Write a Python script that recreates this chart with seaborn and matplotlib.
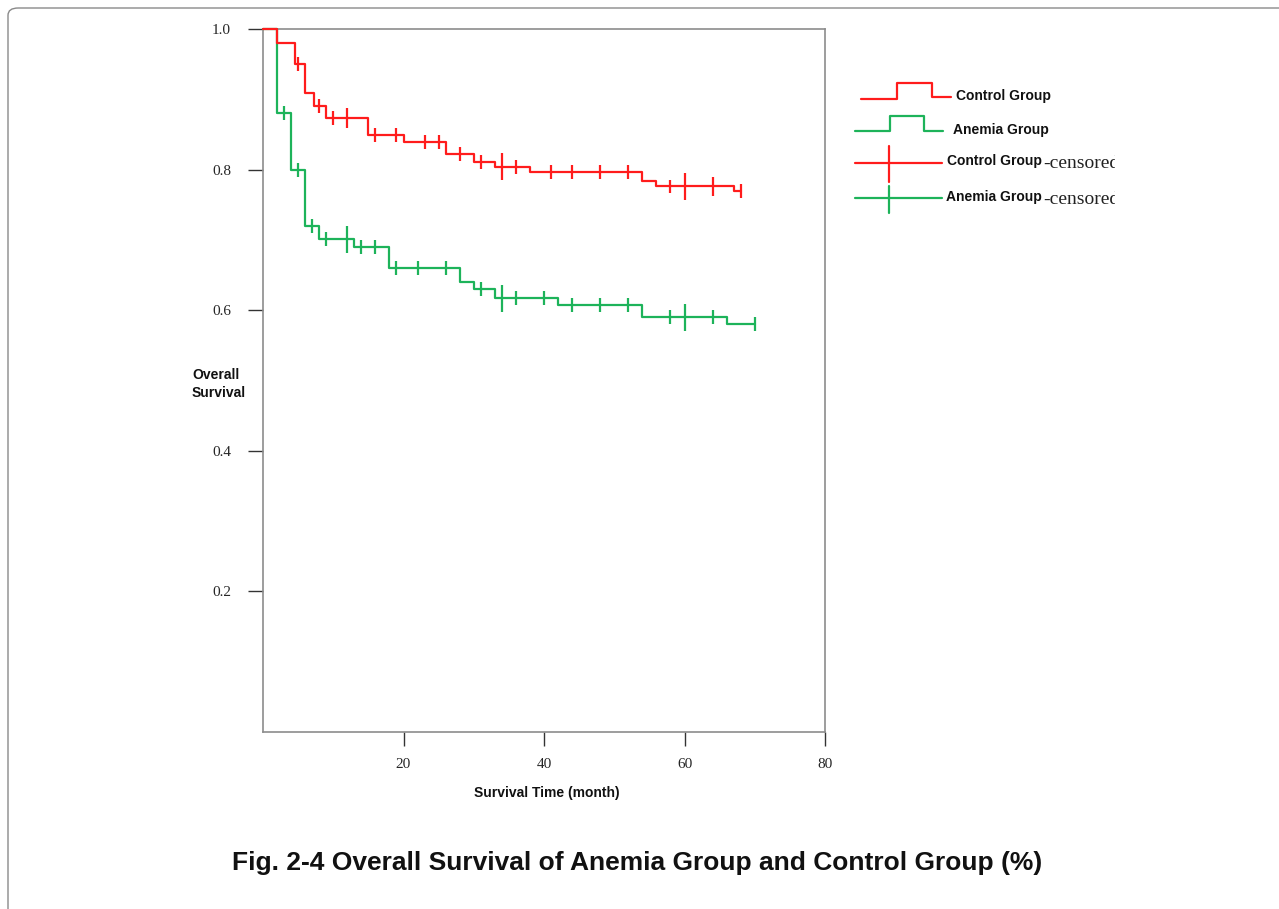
import numpy as np
import pandas as pd
import matplotlib
matplotlib.use("Agg")
import matplotlib.pyplot as plt
from matplotlib.patches import FancyBboxPatch
import seaborn as sns

# ---------------- data ----------------
groups = ["Control Group", "Anemia Group"]

control_event_times = [0, 2, 4.5, 6, 7.3, 9, 15, 20, 26, 30, 33, 38, 54, 56, 67]
control_survival    = [1.0, 0.980, 0.950, 0.909, 0.890, 0.873, 0.849, 0.839,
                       0.822, 0.811, 0.804, 0.796, 0.784, 0.776, 0.769]
control_censor_times  = [5, 8, 10, 12, 16, 19, 23, 25, 28, 31, 34, 36, 41, 44,
                         48, 52, 58, 60, 64, 68]
control_censor_counts = [1, 1, 1, 2, 1, 1, 1, 1, 1, 1, 3, 1, 1, 1,
                         1, 1, 1, 3, 2, 1]

anemia_event_times = [0, 2, 4, 6, 8, 13, 18, 28, 30, 33, 42, 54, 66]
anemia_survival    = [1.0, 0.880, 0.800, 0.720, 0.701, 0.690, 0.660, 0.640,
                      0.630, 0.617, 0.607, 0.590, 0.580]
anemia_censor_times  = [3, 5, 7, 9, 12, 14, 16, 19, 22, 26, 31, 34, 36, 40,
                        44, 48, 52, 58, 60, 64, 70]
anemia_censor_counts = [1, 1, 1, 1, 3, 1, 1, 1, 1, 1, 1, 3, 1, 1,
                        1, 1, 1, 1, 3, 1, 1]

x_ticks = [20, 40, 60, 80]
y_ticks = [0.2, 0.4, 0.6, 0.8, 1.0]

colors = {"Control Group": "#ff1c1c", "Anemia Group": "#1db35a"}

# ---------------- build tables ----------------
def curve_table(name, ev_t, ev_s, c_t):
    t = list(ev_t) + [max(c_t)]
    s = list(ev_s) + [ev_s[-1]]
    return pd.DataFrame({"time": t, "surv": s, "group": name})

def censor_table(name, ev_t, ev_s, c_t, c_n):
    idx = np.searchsorted(np.asarray(ev_t), np.asarray(c_t), side="right") - 1
    return pd.DataFrame({"time": c_t, "surv": np.asarray(ev_s)[idx],
                         "n": c_n, "group": name})

curves = pd.concat([
    curve_table("Anemia Group", anemia_event_times, anemia_survival, anemia_censor_times),
    curve_table("Control Group", control_event_times, control_survival, control_censor_times),
], ignore_index=True)
censors = pd.concat([
    censor_table("Control Group", control_event_times, control_survival,
                 control_censor_times, control_censor_counts),
    censor_table("Anemia Group", anemia_event_times, anemia_survival,
                 anemia_censor_times, anemia_censor_counts),
], ignore_index=True)

# ---------------- figure ----------------
sns.set_theme(style="white")
plt.rcParams["font.family"] = ["Liberation Sans", "DejaVu Sans"]

W, H = 1279, 909
fig = plt.figure(figsize=(W / 100, H / 100), dpi=100)

# outer frame
frame = FancyBboxPatch((8 / W, -0.05), 1.1, 1.05 - 8 / H,
                       boxstyle="round,pad=0,rounding_size=0.008",
                       transform=fig.transFigure, fill=False,
                       edgecolor="#8a8a8a", linewidth=1.0, zorder=0)
fig.patches.append(frame)

ax = fig.add_axes([263 / W, 1 - 732 / H, (825 - 263) / W, (732 - 29) / H])

sns.lineplot(data=curves, x="time", y="surv", hue="group", palette=colors,
             hue_order=["Anemia Group", "Control Group"],
             drawstyle="steps-post", estimator=None, sort=False,
             linewidth=1.6, legend=False, ax=ax, zorder=3)
for ln in ax.lines:
    ln.set_clip_on(False)
sns.scatterplot(data=censors, x="time", y="surv", hue="group", palette=colors,
                size="n", sizes={1: 100, 2: 200, 3: 380}, marker="|",
                linewidth=1.6, legend=False, ax=ax, zorder=3)

ax.set_xlim(0, 80)
ax.set_ylim(0, 1.0)
ax.set_xticks(x_ticks)
ax.set_yticks(y_ticks)
ax.set_xticklabels([str(v) for v in x_ticks], family="Liberation Serif", fontsize=11)
ax.set_yticklabels([f"{v:.1f}" for v in y_ticks], family="Liberation Serif", fontsize=11)
ax.tick_params(axis="y", direction="out", length=11, width=1.0, color="#333333",
               pad=12, left=True)
ax.tick_params(axis="x", direction="out", length=10, width=1.0, color="#333333",
               pad=9, bottom=True)
for side in ["left", "bottom", "top", "right"]:
    ax.spines[side].set_visible(True)
    ax.spines[side].set_color("#8c8c8c")
    ax.spines[side].set_linewidth(1.2)
    ax.spines[side].set_zorder(1)

ax.set_xlabel("Survival Time (month)", fontsize=10, fontweight="bold", color="#111111")
ax.xaxis.set_label_coords(0.505, -0.087)
ax.xaxis.label.set_va("center")
ax.set_ylabel("Overall\nSurvival", fontsize=10, fontweight="bold", color="#111111",
              rotation=0, ha="left", va="center", linespacing=1.4)
ax.yaxis.set_label_coords((192 - 263) / (825 - 263), (732 - 384) / (732 - 29))

# ---------------- legend (drawn in its own axes, pixel units) ----------------
lx0, lx1, ly0, ly1 = 840, 1115, 70, 220
lax = fig.add_axes([lx0 / W, 1 - ly1 / H, (lx1 - lx0) / W, (ly1 - ly0) / H])
lax.set_xlim(lx0, lx1)
lax.set_ylim(ly1, ly0)
lax.axis("off")

rc, gc = colors["Control Group"], colors["Anemia Group"]
lax.plot([861, 897, 897, 932, 932, 951], [99, 99, 83, 83, 97, 97], color=rc, lw=1.6)
lax.plot([855, 890, 890, 924, 924, 943], [131, 131, 116, 116, 131, 131], color=gc, lw=1.6)
lax.plot([855, 942], [163, 163], color=rc, lw=1.6)
lax.plot([889, 889], [146, 182], color=rc, lw=1.6)
lax.plot([855, 942], [198, 198], color=gc, lw=1.6)
lax.plot([889, 889], [186, 213], color=gc, lw=1.6)

tkw = dict(fontsize=10, fontweight="bold", color="#111111", va="center", ha="left")
lax.text(956, 96, "Control Group", **tkw)
lax.text(953, 130, "Anemia Group", **tkw)
t3 = lax.text(947, 161, "Control Group", **tkw)
t4 = lax.text(946, 197, "Anemia Group", **tkw)

fig.canvas.draw()
r = fig.canvas.get_renderer()
for t, yy in [(t3, 163), (t4, 199)]:
    bb = t.get_window_extent(r)
    x_end = lax.transData.inverted().transform((bb.x1, bb.y0))[0]
    ct = lax.text(x_end + 1, yy, "-censored", family="Liberation Serif", fontsize=14,
                  color="#222222", va="center", ha="left")
    ct.set_clip_box(lax.bbox)
    ct.set_clip_on(True)

# ---------------- caption ----------------
fig.text(0.498, 1 - 863 / H,
         "Fig. 2-4 Overall Survival of Anemia Group and Control Group (%)",
         ha="center", va="center", fontsize=19, fontweight="bold", color="#111111")

fig.savefig("out.png", dpi=100, facecolor="white")
